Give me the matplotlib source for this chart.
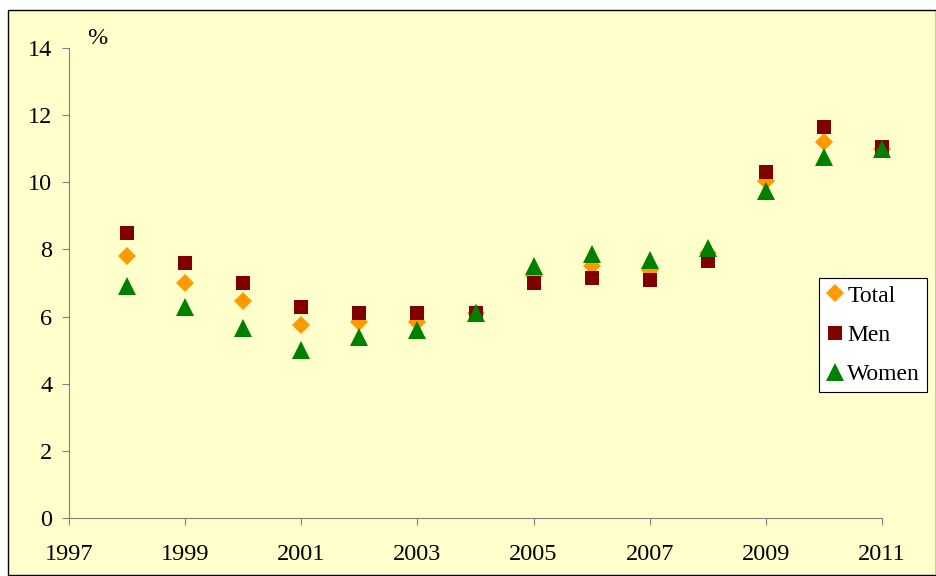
import matplotlib.pyplot as plt
from matplotlib.patches import Rectangle

years = [1998, 1999, 2000, 2001, 2002, 2003, 2004, 2005, 2006, 2007, 2008, 2009, 2010, 2011]
total = [7.8, 7.0, 6.45, 5.75, 5.85, 5.85, 6.1, 7.2, 7.5, 7.4, 7.9, 10.05, 11.2, 11.0]
men = [8.5, 7.6, 7.0, 6.3, 6.1, 6.1, 6.1, 7.0, 7.15, 7.1, 7.65, 10.3, 11.65, 11.05]
women = [6.9, 6.3, 5.65, 5.0, 5.4, 5.6, 6.1, 7.5, 7.85, 7.7, 8.05, 9.75, 10.75, 11.0]

plt.rcParams['font.family'] = ['Liberation Serif', 'DejaVu Serif']
bg = '#FFFFCC'
fs = 17.5

fig = plt.figure(figsize=(9.37, 5.76), dpi=100)
fig.patch.set_facecolor('white')
# pale yellow chart area with a black frame
fig.add_artist(Rectangle((8 / 937, 1 / 576), 928 / 937, 565 / 576, transform=fig.transFigure,
                         facecolor=bg, edgecolor='black', linewidth=1.0, zorder=-1))

ax = fig.add_axes([69 / 937, 1 - 518 / 576, (882 - 69) / 937, 470 / 576])
ax.set_facecolor(bg)

ax.plot(years, total, linestyle='none', marker='D', markersize=9.5, color='#FF9900',
        markeredgewidth=0, label='Total', clip_on=False)
ax.plot(years, men, linestyle='none', marker='s', markersize=10, color='#800000',
        markeredgewidth=0, label='Men', clip_on=False)
ax.plot(years, women, linestyle='none', marker='^', markersize=13.5, color='#008000',
        markeredgewidth=0, label='Women', clip_on=False)

ax.set_xlim(1997, 2011)
ax.set_ylim(0, 14)
ax.set_xticks(range(1997, 2012, 2))
ax.set_yticks(range(0, 15, 2))
for s in ['top', 'right']:
    ax.spines[s].set_visible(False)
for s in ['left', 'bottom']:
    ax.spines[s].set_color('#808080')
    ax.spines[s].set_clip_on(False)
ax.tick_params(colors='#808080', labelcolor='black', labelsize=fs, length=5, direction='out')
ax.tick_params(axis='x', pad=14)
ax.tick_params(axis='y', pad=7)

ax.text(97 / 937, 1 - 38 / 576, '%', transform=fig.transFigure, fontsize=fs,
        ha='center', va='center')

leg = ax.legend(loc='upper left', bbox_to_anchor=(819 / 937, 1 - 278 / 576),
                bbox_transform=fig.transFigure, fontsize=17, frameon=True, fancybox=False,
                edgecolor='black', facecolor='white', framealpha=1, handlelength=0.75,
                handletextpad=0.15, borderpad=0.3, labelspacing=0.75, borderaxespad=0)
leg.get_frame().set_linewidth(0.8)

fig.savefig('out.png', dpi=100, facecolor='white')
